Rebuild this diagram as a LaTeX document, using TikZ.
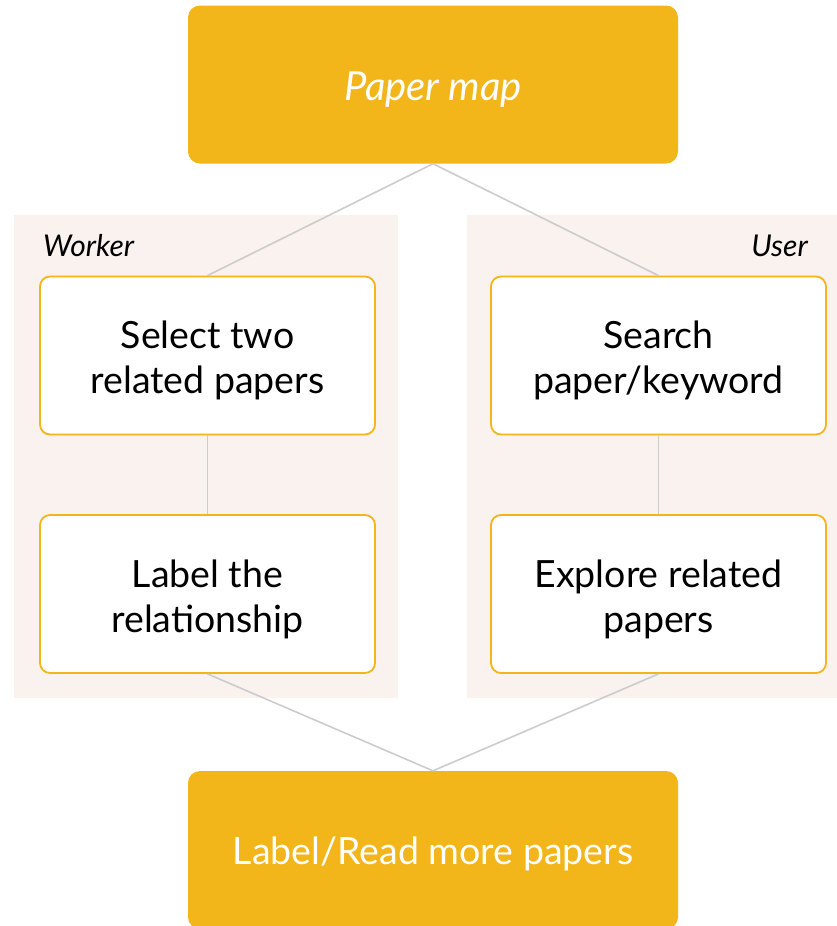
\documentclass[tikz,border=0pt]{standalone}
\usepackage{fontspec}
\setmainfont{Lato}
\definecolor{gold}{HTML}{F2B51A}
\definecolor{panelbg}{HTML}{F9F2EF}
\definecolor{linkgray}{HTML}{CCCCCC}
\begin{document}
\begin{tikzpicture}[x=1pt,y=-1pt,
  bigbox/.style={rectangle, rounded corners=12pt, fill=gold, draw=none,
    minimum width=490pt, minimum height=158pt, inner sep=0pt},
  bigtext/.style={text=white, inner sep=0pt},
  stepbox/.style={rectangle, rounded corners=10pt, fill=white, draw=gold, line width=1.8pt,
    minimum width=335pt, minimum height=158pt, inner sep=0pt},
  steptext/.style={align=center, inner sep=0pt, yshift=-5pt,
    font=\fontsize{37.5}{45}\selectfont},
  panel/.style={rectangle, fill=panelbg, draw=none, inner sep=0pt},
  role/.style={font=\itshape\fontsize{30}{34}\selectfont, inner sep=0pt},
  link/.style={draw=linkgray, line width=1.6pt}
]
\useasboundingbox (0,0) rectangle (836,926);
\node[panel, minimum width=384pt, minimum height=483pt] (panelL) at (206,456.5) {};
\node[panel, minimum width=380pt, minimum height=483pt] (panelR) at (657,456.5) {};
\node[role, anchor=base west] (worker) at (43,256) {Worker};
\node[role, anchor=base east] (user) at (808,256) {User};

\node[bigbox, label={[bigtext, yshift=-5pt, font=\itshape\fontsize{40}{45}\selectfont]center:Paper map}] (top) at (433,84.5) {};
\node[bigbox, label={[bigtext, yshift=-4pt, font=\fontsize{37.5}{45}\selectfont]center:Label/Read more papers}] (bottom) at (433,850) {};

\node[stepbox, label={[steptext]center:{Select two\\related papers}}] (s1) at (207.5,355.5) {};
\node[stepbox, label={[steptext]center:{Label the\\relationship}}] (s2) at (207.5,594) {};
\node[stepbox, label={[steptext]center:{Search\\paper/keyword}}] (u1) at (658.5,355.5) {};
\node[stepbox, label={[steptext]center:{Explore related\\papers}}] (u2) at (658.5,594) {};

\draw[link] (top.south) -- (s1.north);
\draw[link] (top.south) -- (u1.north);
\draw[link] (s1.south) -- (s2.north);
\draw[link] (u1.south) -- (u2.north);
\draw[link] (s2.south) -- (bottom.north);
\draw[link] (u2.south) -- (bottom.north);
\end{tikzpicture}
\end{document}
